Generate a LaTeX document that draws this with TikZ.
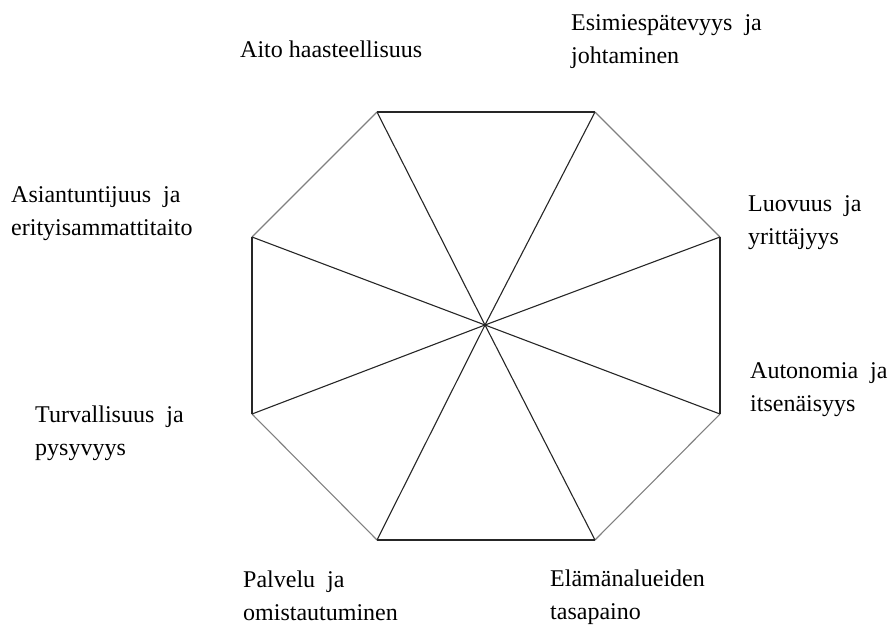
\documentclass[tikz,border=0pt]{standalone}
\usepackage{fontspec}
\setmainfont{Liberation Serif}
\tikzset{
  lbl/.style={anchor=base west, inner sep=0pt, align=left, font=\fontsize{24}{33}\selectfont},
  spoke/.style={draw=black!85, line width=1.1pt},
  edgestraight/.style={draw=black!85, line width=1.2pt},
  edgediag/.style={draw=black!50, line width=1.1pt}
}
\begin{document}
\begin{tikzpicture}[x=1pt,y=-1pt]
\useasboundingbox (0,0) rectangle (890,630);
\coordinate (c) at (485,325);
\coordinate (v1) at (377,112);
\coordinate (v2) at (595,112);
\coordinate (v3) at (720,237);
\coordinate (v4) at (720,414);
\coordinate (v5) at (595,540);
\coordinate (v6) at (377,540);
\coordinate (v7) at (252,414);
\coordinate (v8) at (252,237);
% outer edges
\draw[edgestraight] (v1) -- (v2);
\draw[edgediag] (v2) -- (v3);
\draw[edgestraight] (v3) -- (v4);
\draw[edgediag] (v4) -- (v5);
\draw[edgestraight] (v5) -- (v6);
\draw[edgediag] (v6) -- (v7);
\draw[edgestraight] (v7) -- (v8);
\draw[edgediag] (v8) -- (v1);
% spokes
\foreach \v in {v1,v2,v3,v4,v5,v6,v7,v8} \draw[spoke] (c) -- (\v);
% labels (anchor = baseline of the last line)
\node[lbl] (l1) at (240,57) {Aito haasteellisuus};
\node[lbl] (l2) at (571,63) {Esimiespätevyys\ \ ja\\johtaminen};
\node[lbl] (l3) at (748,244) {Luovuus\ \ ja\\yrittäjyys};
\node[lbl] (l4) at (750,411) {Autonomia\ \ ja\\itsenäisyys};
\node[lbl] (l5) at (550,619) {Elämänalueiden\\tasapaino};
\node[lbl] (l6) at (243,620) {Palvelu\ \ ja\\omistautuminen};
\node[lbl] (l7) at (35,455) {Turvallisuus\ \ ja\\pysyvyys};
\node[lbl] (l8) at (11,235) {Asiantuntijuus\ \ ja\\erityisammattitaito};
\end{tikzpicture}
\end{document}
